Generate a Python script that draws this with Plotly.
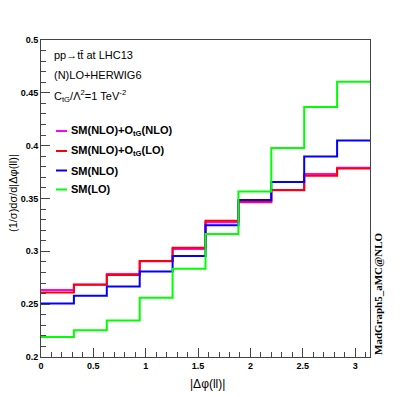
import numpy as np
import plotly.graph_objects as go

# |dphi(ll)| binning: 10 bins over [0, pi]
n_bins = 10
bin_edges = list(np.linspace(0, np.pi, n_bins + 1))

sm_nlo_otg_nlo = [0.2633, 0.2685, 0.2785, 0.2905, 0.3022, 0.3276, 0.3465, 0.3578, 0.3732, 0.3790]
sm_nlo_otg_lo = [0.2611, 0.2683, 0.2775, 0.2908, 0.3034, 0.3290, 0.3472, 0.3580, 0.3716, 0.3783]
sm_nlo = [0.2507, 0.2580, 0.2668, 0.2810, 0.2955, 0.3247, 0.3485, 0.3655, 0.3898, 0.4050]
sm_lo = [0.2190, 0.2253, 0.2345, 0.2560, 0.2835, 0.3164, 0.3566, 0.3978, 0.4367, 0.4604]

series_names = ['SM(NLO)+O<sub>tG</sub>(NLO)', 'SM(NLO)+O<sub>tG</sub>(LO)', 'SM(NLO)', 'SM(LO)']
series_values = [sm_nlo_otg_nlo, sm_nlo_otg_lo, sm_nlo, sm_lo]
series_colors = ['#ff00ff', '#ff0000', '#0000ff', '#00ff00']

# plot frame in pixels (ROOT canvas look)
X0, X1, Y0, Y1 = 41, 370, 40, 357


def px_x(x):
    return (x - X0) / (X1 - X0)


def px_y(y):
    return (Y1 - y) / (Y1 - Y0)


fig = go.Figure()
for name, vals, col in zip(series_names, series_values, series_colors):
    fig.add_trace(go.Scatter(
        x=bin_edges, y=vals + [vals[-1]], mode='lines', line_shape='hv',
        line=dict(color=col, width=2), name=name, showlegend=False,
    ))

# ROOT-style legend drawn by hand
leg_y = [131, 151, 170.5, 189.5]
for name, col, yy in zip(series_names, series_colors, leg_y):
    fig.add_shape(type='line', xref='paper', yref='paper',
                  x0=px_x(56), x1=px_x(67), y0=px_y(yy), y1=px_y(yy),
                  line=dict(color=col, width=2))
    fig.add_annotation(text='<b>' + name + '</b>', xref='paper', yref='paper',
                       x=px_x(69), y=px_y(yy), xanchor='left', yanchor='middle',
                       showarrow=False, font=dict(size=11, color='black'))

header = ['pp→tt̄ at LHC13', '(N)LO+HERWIG6', 'C<sub>tG</sub>/Λ<sup>2</sup>=1 TeV<sup>-2</sup>']
for txt, yy in zip(header, [55, 75, 96]):
    fig.add_annotation(text=txt, xref='paper', yref='paper',
                       x=px_x(52), y=px_y(yy), xanchor='left', yanchor='middle',
                       showarrow=False, font=dict(size=11, color='black'))

fig.add_annotation(text='(1/σ)dσ/d|Δφ(ll)|', xref='paper', yref='paper',
                   x=px_x(13), y=px_y(193), textangle=-90,
                   xanchor='center', yanchor='middle', showarrow=False,
                   font=dict(size=11, color='black'))
fig.add_annotation(text='|Δφ(ll)|', xref='paper', yref='paper',
                   x=px_x(207), y=px_y(384),
                   xanchor='center', yanchor='middle', showarrow=False,
                   font=dict(size=12, color='black'))
fig.add_annotation(text='<b>MadGraph5_aMC@NLO</b>', xref='paper', yref='paper',
                   x=px_x(378), y=px_y(294), textangle=-90,
                   xanchor='center', yanchor='middle', showarrow=False,
                   font=dict(family='Liberation Serif', size=11, color='black'))

axis_style = dict(
    showgrid=False, zeroline=False, showline=True, linecolor='#444', linewidth=1,
    mirror=True, ticks='inside', tickcolor='#444', ticklen=9,
    tickfont=dict(size=9, color='black', family='Liberation Sans'),
    tickprefix='<b>', ticksuffix='</b>',
)
fig.update_layout(
    width=411, height=397,
    margin=dict(t=Y0, l=X0, r=411 - X1, b=397 - Y1),
    plot_bgcolor='white', paper_bgcolor='white',
    font=dict(family='Liberation Sans'),
    xaxis=dict(range=[0, np.pi], dtick=0.5, tick0=0,
               minor=dict(ticks='inside', ticklen=5, dtick=0.1, tickcolor='#444'),
               **axis_style),
    yaxis=dict(range=[0.2, 0.5], dtick=0.05, tick0=0.2,
               minor=dict(ticks='inside', ticklen=5, dtick=0.01, tickcolor='#444'),
               **axis_style),
    showlegend=False,
)

fig.write_html("out.html", config={'displayModeBar': False},
               post_script="document.body.style.margin='0';")
